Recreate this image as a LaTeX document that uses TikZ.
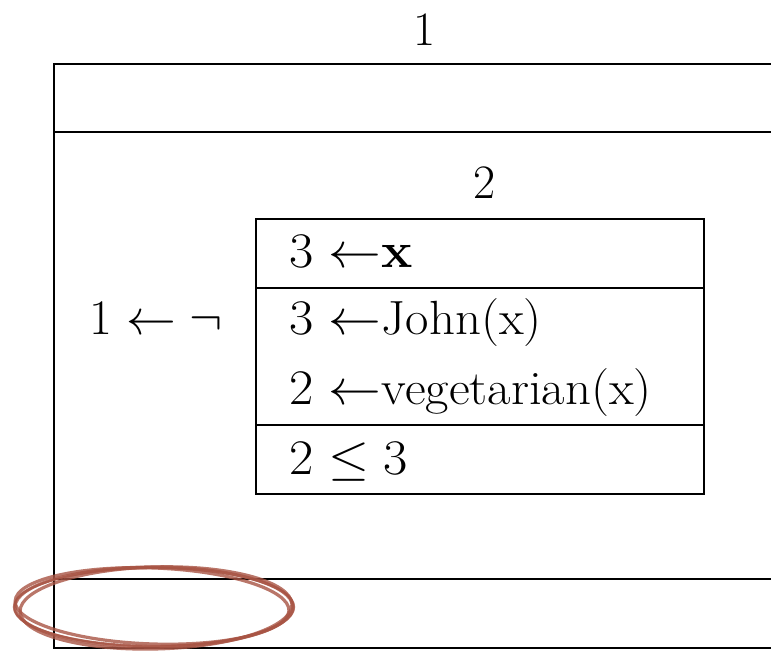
\documentclass[tikz,border=0pt]{standalone}
\usepackage{amsmath,amssymb}
\usepackage{xcolor}
\usepackage{tikz}
\definecolor{penred}{HTML}{A85444}

\begin{document}
\begin{tikzpicture}[
  x=0.5pt,
  y=-0.5pt,
  frame/.style={draw=black,line width=1pt},
  drs/.style={font=\fontsize{24}{29}\selectfont,inner sep=0pt},
  cond/.style={drs,anchor=base west},
  penmark/.style={draw=penred,line width=1.6pt,opacity=0.8}
]
  \useasboundingbox (0,0) rectangle (771,651);

  % outer box, cut off at the right
  \draw[frame] (771,64) -- (54,64) -- (54,648) -- (771,648);
  \draw[frame] (54,132) -- (771,132);
  \draw[frame] (54,579) -- (771,579);
  \node[drs] (lab1) at (425,30) {1};

  % inner box
  \draw[frame] (256,219) rectangle (704,494);
  \draw[frame] (256,288) -- (704,288);
  \draw[frame] (256,425) -- (704,425);
  \node[drs] (lab2) at (485,183) {2};
  \node[cond] (neg) at (89,335) {$1 \leftarrow \neg$};

  \node[cond,xscale=1.06,transform shape] (ref) at (289,268) {$3\ {\leftarrow}\mathbf{x}$};
  \node[cond,xscale=1.06,transform shape] (john) at (289,335) {$3\ {\leftarrow}$John(x)};
  \node[cond,xscale=1.06,transform shape] (veg) at (289,405) {$2\ {\leftarrow}$vegetarian(x)};
  \node[cond,xscale=1.06,transform shape] (leq) at (289,475) {$2 \leq 3$};

  % hand drawn circle
  \draw[penmark] (154,607) ellipse [x radius=139,y radius=40];
  \draw[penmark,rotate around={-2:(154,607)}] (152,606) ellipse [x radius=137,y radius=38];
  \draw[penmark,rotate around={1.5:(154,607)}] (156,608) ellipse [x radius=136,y radius=41];
  \draw[penmark,line width=1.2pt] (154,607) ellipse [x radius=140,y radius=39];
\end{tikzpicture}
\end{document}
